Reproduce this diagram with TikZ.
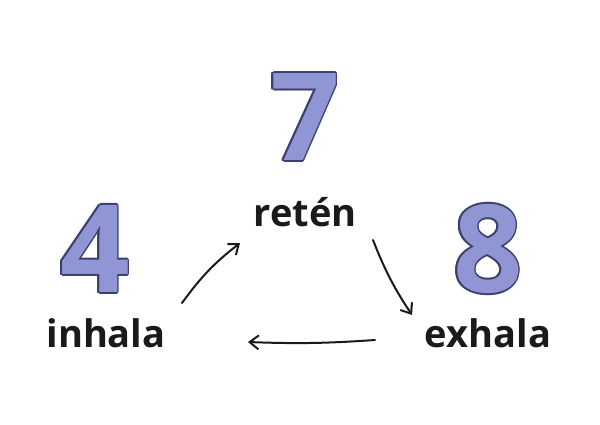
\documentclass[tikz,border=0pt]{standalone}
\usepackage{fontspec}
\setmainfont{Open Sans}
\definecolor{numfill}{HTML}{8F96D3}
\definecolor{numline}{HTML}{3A3F6E}
\definecolor{ink}{HTML}{1A1A1A}
\usetikzlibrary{calc,arrows.meta}
\tikzset{
  numbase/.style={font=\fontsize{122}{122}\selectfont\bfseries, inner sep=0pt},
  num/.style={numbase, text=numfill},
  numo/.style={numbase, text=numline},
  lbl/.style={font=\fontsize{38}{38}\selectfont\bfseries, text=ink},
  arr/.style={-{Straight Barb[length=9pt,width=14pt,line width=2pt]}, line width=2pt, draw=ink, line cap=round}
}
\newcommand{\bignum}[3]{%
  \foreach \ang in {0,45,...,315}{\node[numo] at ($(#2)+(\ang:1.8)$) {#3};}
  \node[num] (#1) at (#2) {#3};}
\begin{document}
\begin{tikzpicture}[x=1pt,y=1pt]
\useasboundingbox (0,0) rectangle (600,424);
\fill[white] (0,0) rectangle (600,424);
\bignum{n7}{305,307}{7}
\bignum{n4}{95,175}{4}
\bignum{n8}{488,175}{8}
\node[lbl] (ret) at (305,212) {retén};
\node[lbl] (inh) at (106,91) {inhala};
\node[lbl] (exh) at (488,91) {exhala};
\coordinate (a1) at (182,121); \coordinate (a2) at (240,181);
\coordinate (b1) at (373,184); \coordinate (b2) at (412,109);
\coordinate (c1) at (375,84); \coordinate (c2) at (248,82);
\draw[arr] (a1) to[bend left=8] (a2);
\draw[arr] (b1) to[bend right=6] (b2);
\draw[arr] (c1) to[bend left=3] (c2);
\end{tikzpicture}
\end{document}
